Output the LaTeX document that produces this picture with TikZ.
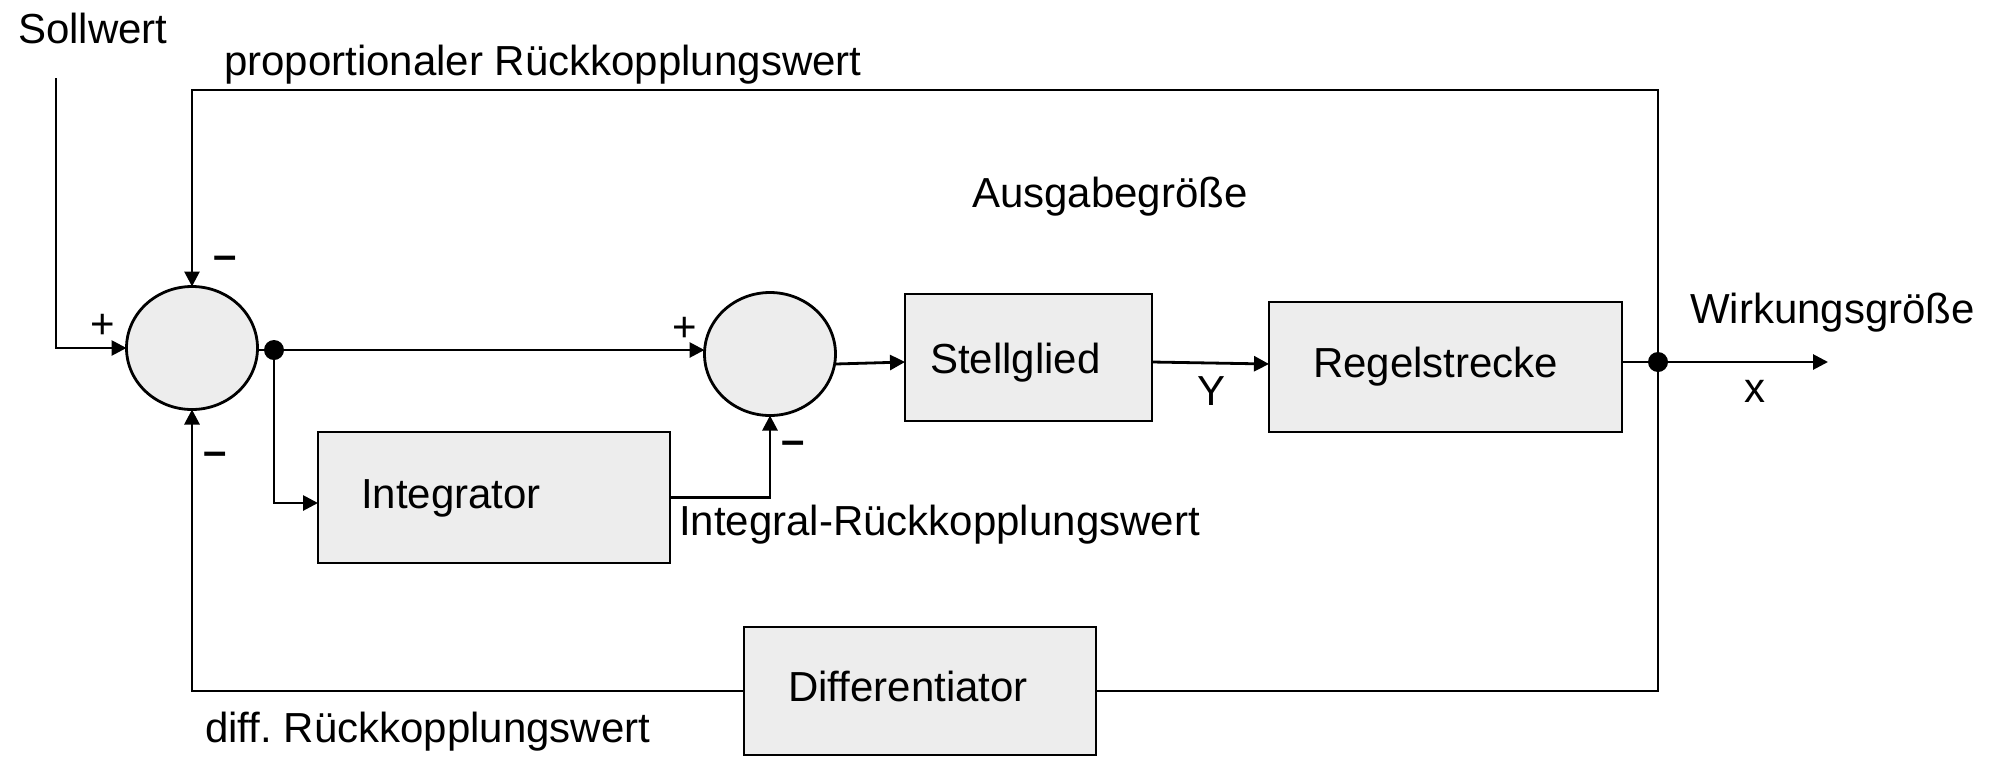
\documentclass[tikz,border=0pt]{standalone}
\usepackage{fontspec}
\setmainfont{Liberation Sans}
\usetikzlibrary{arrows.meta,shapes.geometric,calc}
\definecolor{boxgray}{HTML}{EDEDED}
\frenchspacing
\begin{document}
\begin{tikzpicture}[x=1pt,y=-1pt,
  every node/.style={font=\fontsize{42}{50}\selectfont},
  wire/.style={line width=2.8pt},
  arr/.style={wire,-{Triangle[length=15pt,width=15pt]}},
  sumnode/.style={ellipse,draw,line width=2.8pt,fill=boxgray,inner sep=0pt,outer sep=0pt,minimum width=131pt,minimum height=123pt},
  blk/.style={rectangle,draw,line width=2.8pt,fill=boxgray,inner sep=0pt,outer sep=0pt},
  dot/.style={circle,fill=black,inner sep=0pt,outer sep=0pt,minimum size=20pt},
  lbl/.style={anchor=base west,inner sep=0pt},
  sign/.style={anchor=base,inner sep=0pt},
  minus/.style={anchor=base,inner sep=0pt,font=\fontsize{42}{50}\selectfont\bfseries}]
\useasboundingbox (0,0) rectangle (2004,756);

% blocks
\node[sumnode] (c1) at (192,348) {};
\node[sumnode] (c2) at (770,354) {};
\node[blk,minimum width=247pt,minimum height=127pt] (stell) at (1028.5,357.5) {};
\node[blk,minimum width=353pt,minimum height=130pt] (regel) at (1445.5,367) {};
\node[blk,minimum width=352pt,minimum height=131pt] (integ) at (494,497.5) {};
\node[blk,minimum width=352pt,minimum height=128pt] (diff) at (920,691) {};

% junctions and free ends
\node[dot] (j1) at (274,350) {};
\node[dot] (j2) at (1658,362) {};
\coordinate (sin) at (56,78);
\coordinate (tr) at (1658,90);
\coordinate (xout) at (1828,362);
\coordinate (br) at (1658,691);
\coordinate (bl) at (192,691);

% connectors
\draw[arr] (sin) |- (c1.west);
\draw[arr] (j2.center) -- (tr) -| (c1.north);
\draw[wire] (c1.east |- j1) -- (j1.center);
\draw[arr] (j1.center) -- (j1 -| c2.west);
\draw[arr] (j1.center) |- ($(integ.west)+(0,5.5)$);
\draw[arr] (integ.east) -| (c2.south);
\draw[arr] ($(c2.east)+(0,10)$) -- ($(stell.west)+(0,4.5)$);
\draw[arr] ($(stell.east)+(0,4.5)$) -- ($(regel.west)+(0,-3)$);
\draw[wire] ($(regel.east)+(0,-5)$) -- (j2.center);
\draw[arr] (j2.center) -- (xout);
\draw[wire] (j2.center) -- (br) -- (diff.east);
\draw[arr] (diff.west) -- (bl) -- (c1.south);

% block texts
\node[lbl] (tstell) at (930,373) {Stellglied};
\node[lbl] (tregel) at (1313,377) {Regelstrecke};
\node[lbl] (tinteg) at (361,508) {Integrator};
\node[lbl] (tdiff) at (788,701) {Differentiator};

% labels
\node[lbl] (tsoll) at (18,43) {Sollwert};
\node[lbl] (tprop) at (224,75) {proportionaler Rückkopplungswert};
\node[lbl] (taus) at (972,207) {Ausgabegröße};
\node[lbl] (twirk) at (1690,323) {Wirkungsgröße};
\node[lbl] (tx) at (1744,402) {x};
\node[lbl] (ty) at (1197,405) {Y};
\node[lbl] (tint) at (679,535) {Integral-Rückkopplungswert};
\node[lbl] (tdr) at (205,742) {diff. Rückkopplungswert};

% signs
\node[sign] (p1) at (103,338) {+};
\node[sign] (p2) at (685,341) {+};
\node[minus] (m1) at (225,269) {–};
\node[minus] (m2) at (793,454) {–};
\node[minus] (m3) at (215,465) {–};
\end{tikzpicture}
\end{document}
